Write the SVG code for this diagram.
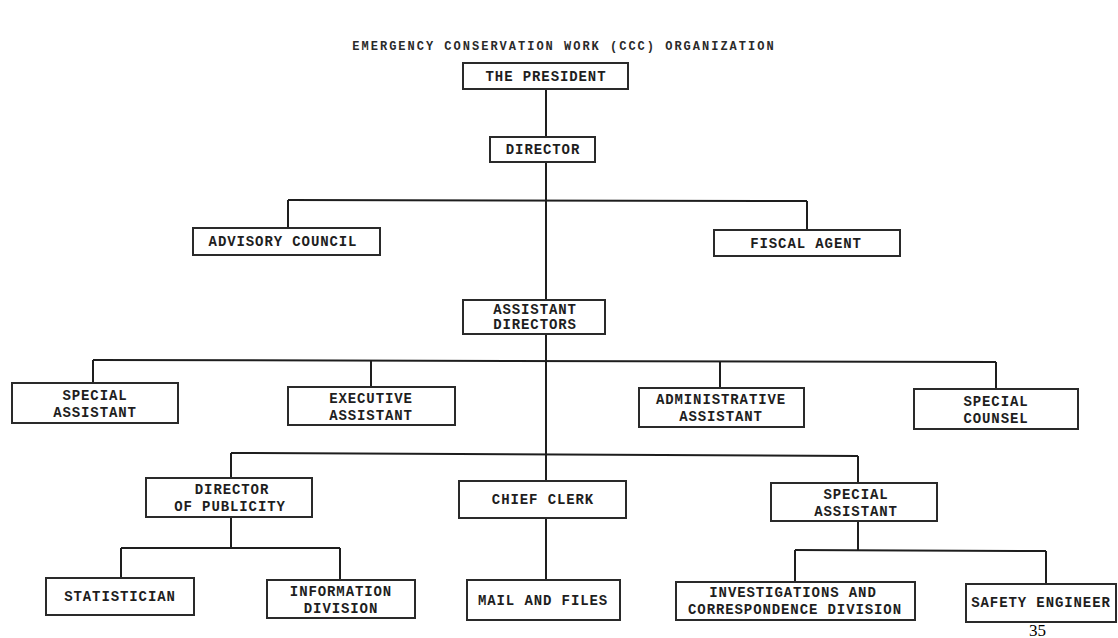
<svg xmlns="http://www.w3.org/2000/svg" width="1118" height="638" viewBox="0 0 1118 638">
<style>
.box{fill:#fff;stroke:#2a2a2a;stroke-width:2}
.lbl{font-family:"Liberation Mono",monospace;font-weight:bold;font-size:14px;letter-spacing:0.9px;fill:#1e1e1e;text-anchor:middle}
.ttl{font-family:"Liberation Mono",monospace;font-weight:bold;font-size:12px;letter-spacing:2px;fill:#2a2a2a;text-anchor:middle}
.conn line{stroke:#1e1e1e;stroke-width:2;fill:none}
.pg{font-family:"Liberation Serif",serif;font-size:17px;fill:#000}
</style>
<rect width="1118" height="638" fill="#fff"/>
<text class="ttl" x="564" y="50">EMERGENCY CONSERVATION WORK (CCC) ORGANIZATION</text>
<g id="connectors" class="conn">
<line x1="546" y1="89" x2="546" y2="137"/>
<line x1="546" y1="162" x2="546" y2="300"/>
<line x1="288" y1="200" x2="807" y2="201"/>
<line x1="288" y1="200" x2="288" y2="228"/>
<line x1="807" y1="201" x2="807" y2="230"/>
<line x1="546" y1="334" x2="546" y2="455"/>
<line x1="93" y1="360" x2="996" y2="362"/>
<line x1="93" y1="360" x2="93" y2="383"/>
<line x1="371" y1="361" x2="371" y2="387"/>
<line x1="720" y1="361" x2="720" y2="388"/>
<line x1="996" y1="362" x2="996" y2="389"/>
<line x1="231" y1="453" x2="858" y2="456"/>
<line x1="231" y1="453" x2="231" y2="478"/>
<line x1="546" y1="455" x2="546" y2="481"/>
<line x1="858" y1="456" x2="858" y2="483"/>
<line x1="231" y1="517" x2="231" y2="548"/>
<line x1="121" y1="548" x2="340" y2="548"/>
<line x1="121" y1="548" x2="121" y2="578"/>
<line x1="340" y1="548" x2="340" y2="580"/>
<line x1="546" y1="518" x2="546" y2="580"/>
<line x1="858" y1="521" x2="858" y2="550"/>
<line x1="795" y1="550" x2="1046" y2="551"/>
<line x1="795" y1="550" x2="795" y2="582"/>
<line x1="1046" y1="551" x2="1046" y2="584"/>
</g>
<g id="president"><rect class="box" x="463" y="63" width="165" height="26"/><text class="lbl" x="546" y="81">THE PRESIDENT</text></g>
<g id="director"><rect class="box" x="490" y="137" width="105" height="25"/><text class="lbl" x="543" y="154">DIRECTOR</text></g>
<g id="advisory-council"><rect class="box" x="193" y="228" width="187" height="27"/><text class="lbl" x="283" y="246">ADVISORY COUNCIL</text></g>
<g id="fiscal-agent"><rect class="box" x="714" y="230" width="186" height="26"/><text class="lbl" x="806" y="248">FISCAL AGENT</text></g>
<g id="assistant-directors"><rect class="box" x="463" y="300" width="142" height="34"/><text class="lbl" x="535" y="314">ASSISTANT</text><text class="lbl" x="535" y="329">DIRECTORS</text></g>
<g id="special-assistant-1"><rect class="box" x="12" y="383" width="166" height="40"/><text class="lbl" x="95" y="400">SPECIAL</text><text class="lbl" x="95" y="417">ASSISTANT</text></g>
<g id="executive-assistant"><rect class="box" x="288" y="387" width="167" height="38"/><text class="lbl" x="371" y="403">EXECUTIVE</text><text class="lbl" x="371" y="420">ASSISTANT</text></g>
<g id="administrative-assistant"><rect class="box" x="639" y="388" width="165" height="39"/><text class="lbl" x="721" y="404">ADMINISTRATIVE</text><text class="lbl" x="721" y="421">ASSISTANT</text></g>
<g id="special-counsel"><rect class="box" x="914" y="389" width="164" height="40"/><text class="lbl" x="996" y="406">SPECIAL</text><text class="lbl" x="996" y="423">COUNSEL</text></g>
<g id="director-of-publicity"><rect class="box" x="146" y="478" width="166" height="39"/><text class="lbl" x="232" y="494">DIRECTOR</text><text class="lbl" x="230" y="511">OF PUBLICITY</text></g>
<g id="chief-clerk"><rect class="box" x="459" y="481" width="167" height="37"/><text class="lbl" x="543" y="504">CHIEF CLERK</text></g>
<g id="special-assistant-2"><rect class="box" x="771" y="483" width="166" height="38"/><text class="lbl" x="856" y="499">SPECIAL</text><text class="lbl" x="856" y="516">ASSISTANT</text></g>
<g id="statistician"><rect class="box" x="46" y="578" width="148" height="37"/><text class="lbl" x="120" y="601">STATISTICIAN</text></g>
<g id="information-division"><rect class="box" x="267" y="580" width="148" height="38"/><text class="lbl" x="341" y="596">INFORMATION</text><text class="lbl" x="341" y="613">DIVISION</text></g>
<g id="mail-and-files"><rect class="box" x="467" y="580" width="153" height="40"/><text class="lbl" x="543" y="605">MAIL AND FILES</text></g>
<g id="investigations"><rect class="box" x="676" y="582" width="239" height="38"/><text class="lbl" x="793" y="597">INVESTIGATIONS AND</text><text class="lbl" x="795" y="614">CORRESPONDENCE DIVISION</text></g>
<g id="safety-engineer"><rect class="box" x="966" y="584" width="150" height="38"/><text class="lbl" x="1041" y="607">SAFETY ENGINEER</text></g>
<text class="pg" x="1029" y="636">35</text>
</svg>
